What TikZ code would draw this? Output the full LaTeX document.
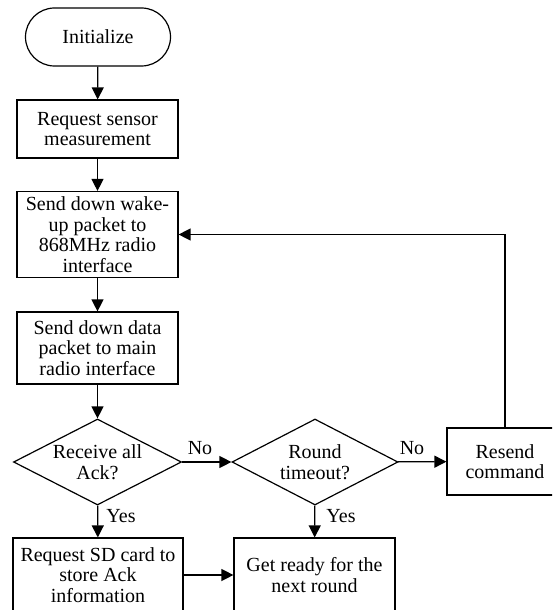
\documentclass[tikz,border=0pt]{standalone}
\usepackage{fontspec}
\setmainfont{Liberation Serif}
\usetikzlibrary{arrows.meta,shapes.geometric,shapes.misc}

\begin{document}
\begin{tikzpicture}[x=1pt,y=-1pt,
      font=\fontsize{20}{20.5}\selectfont,
      startbox/.style={rounded rectangle,draw,line width=1.2pt,inner sep=0pt,minimum width=145pt,minimum height=58pt},
      procbox/.style={rectangle,draw,line width=1.2pt,align=center,inner sep=0pt,minimum width=161pt},
      decision/.style={diamond,draw,line width=1.2pt,align=center,inner sep=0pt,aspect=2,minimum width=168pt,minimum height=86pt},
      flow/.style={draw,line width=1.3pt,-{Triangle[length=12pt,width=12pt]}},
      lbl/.style={inner sep=0pt}]
    \useasboundingbox (0,0) rectangle (552,610);
    \clip (0,0) rectangle (552,610);
    % main column
    \node[startbox] (init) at (98,37) {Initialize};
    \node[procbox,minimum height=58pt] (meas) at (97.5,129) {Request sensor\\measurement};
    \node[procbox,minimum height=86pt] (wake) at (97.5,234.5) {Send down wake-\\up packet to\\868MHz radio\\interface};
    \node[procbox,minimum height=72pt] (data) at (97.5,348) {Send down data\\packet to main\\radio interface};
    \node[decision] (ack) at (97.5,462) {Receive all\\Ack?};
    \node[procbox,minimum width=170pt,minimum height=74pt] (sd) at (98,575) {Request SD card to\\store Ack\\information};
    % right part
    \node[decision,minimum width=166pt] (tout) at (315,462) {Round\\timeout?};
    \node[procbox,minimum width=116pt,minimum height=67pt] (resend) at (505,461.5) {Resend\\command};
    \node[procbox,minimum height=74pt] (ready) at (314.5,575) {Get ready for the\\next round};
    % labels
    \node[lbl] (no1) at (200,448) {No};
    \node[lbl] (no2) at (412,448) {No};
    \node[lbl] (yes1) at (121,516) {Yes};
    \node[lbl] (yes2) at (341,516) {Yes};
    % connectors
    \draw[flow] (init) -- (meas);
    \draw[flow] (meas) -- (wake);
    \draw[flow] (wake) -- (data);
    \draw[flow] (data) -- (ack);
    \draw[flow] (ack) -- (tout);
    \draw[flow] (tout) -- (resend);
    \draw[flow] (ack) -- (sd);
    \draw[flow] (tout) -- (ready);
    \draw[flow] (sd) -- (ready);
    \draw[flow] (resend.north) |- (wake.east);
\end{tikzpicture}
\end{document}
